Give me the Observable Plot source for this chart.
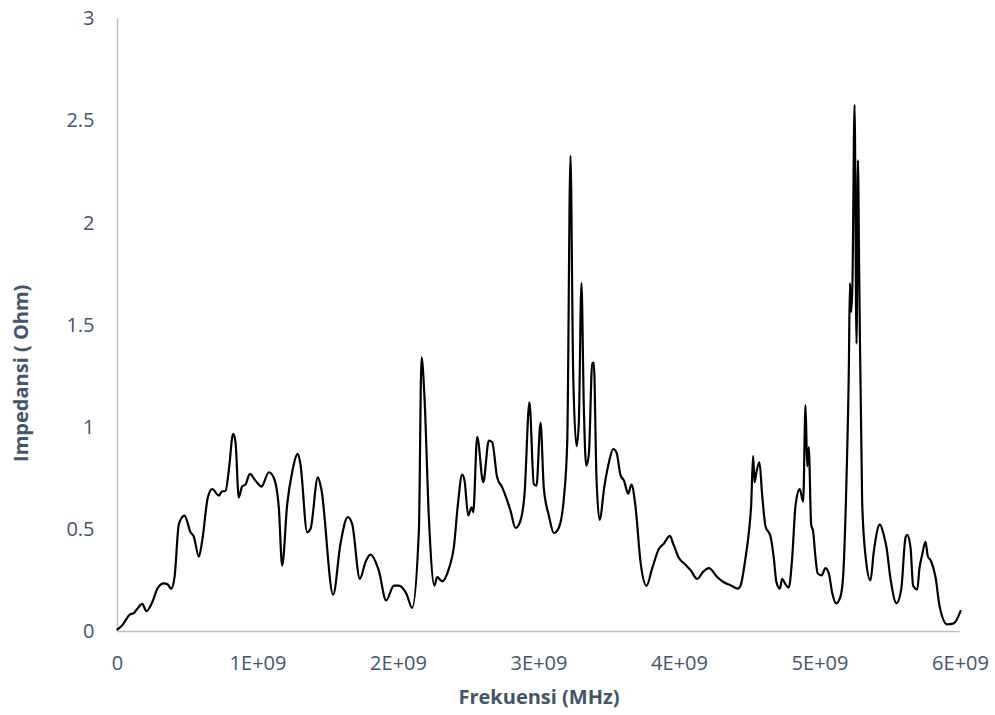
<!DOCTYPE html>
<html>
<head>
<meta charset="utf-8">
<script src="https://cdn.jsdelivr.net/npm/d3@7"></script>
<script src="https://cdn.jsdelivr.net/npm/@observablehq/plot@0.6"></script>
<style>
  html, body { margin: 0; padding: 0; background: #ffffff; }
</style>
</head>
<body>
<div id="chart"></div>
<script>
// Frequency in units of 1E+09
const freqE9 = [
  0, 0.033, 0.088, 0.116, 0.14, 0.176, 0.206, 0.247, 0.287, 0.33, 0.358, 0.382, 0.406, 0.437, 0.477,
  0.52, 0.543, 0.579, 0.603, 0.643, 0.674, 0.721, 0.745, 0.769, 0.792, 0.823, 0.84, 0.863, 0.887, 0.911,
  0.942, 0.982, 1.025, 1.077, 1.113, 1.148, 1.172, 1.208, 1.243, 1.283, 1.302, 1.35, 1.374, 1.426, 1.45,
  1.535, 1.587, 1.639, 1.67, 1.725, 1.765, 1.80, 1.86, 1.912, 1.967, 2.002, 2.057, 2.097, 2.145, 2.164,
  2.185, 2.216, 2.256, 2.275, 2.311, 2.358, 2.394, 2.423, 2.453, 2.47, 2.496, 2.52, 2.532, 2.56, 2.603,
  2.643, 2.667, 2.702, 2.738, 2.797, 2.833, 2.868, 2.897, 2.932, 2.963, 2.982, 3.011, 3.034, 3.07, 3.106,
  3.141, 3.177, 3.201, 3.224, 3.243, 3.267, 3.283, 3.302, 3.319, 3.336, 3.355, 3.379, 3.39, 3.409, 3.431,
  3.466, 3.497, 3.528, 3.552, 3.58, 3.604, 3.635, 3.658, 3.687, 3.722, 3.765, 3.806, 3.853, 3.888, 3.931,
  3.955, 3.995, 4.043, 4.078, 4.126, 4.169, 4.209, 4.268, 4.315, 4.363, 4.415, 4.434, 4.47, 4.493, 4.51,
  4.524, 4.534, 4.548, 4.569, 4.588, 4.612, 4.648, 4.671, 4.69, 4.714, 4.731, 4.754, 4.778, 4.802, 4.826,
  4.856, 4.88, 4.897, 4.909, 4.92, 4.937, 4.951, 4.968, 4.984, 5.011, 5.039, 5.063, 5.087, 5.115, 5.146,
  5.165, 5.189, 5.205, 5.213, 5.222, 5.231, 5.246, 5.26, 5.27, 5.279, 5.3, 5.324, 5.359, 5.383, 5.426,
  5.454, 5.473, 5.502, 5.545, 5.578, 5.609, 5.621, 5.644, 5.663, 5.692, 5.708, 5.727, 5.751, 5.767, 5.791,
  5.822, 5.852, 5.905, 5.952, 6.0
];
// Impedance (Ohm)
const impedance = [
  0.01, 0.03, 0.083, 0.09, 0.11, 0.135, 0.10, 0.143, 0.214, 0.236, 0.23, 0.209, 0.266, 0.527, 0.568,
  0.486, 0.465, 0.367, 0.445, 0.657, 0.698, 0.666, 0.687, 0.687, 0.788, 0.968, 0.927, 0.657, 0.71, 0.72,
  0.772, 0.739, 0.71, 0.78, 0.752, 0.608, 0.323, 0.625, 0.78, 0.87, 0.82, 0.486, 0.503, 0.755, 0.70,
  0.18, 0.43, 0.56, 0.527, 0.258, 0.34, 0.377, 0.298, 0.152, 0.225, 0.225, 0.184, 0.116, 0.494, 1.343,
  1.147, 0.56, 0.225, 0.266, 0.246, 0.307, 0.413, 0.625, 0.768, 0.739, 0.568, 0.608, 0.584, 0.954, 0.731,
  0.935, 0.927, 0.755, 0.706, 0.592, 0.507, 0.543, 0.674, 1.122, 0.722, 0.714, 1.023, 0.705, 0.568, 0.482,
  0.508, 0.654, 0.929, 2.33, 1.273, 0.908, 1.015, 1.706, 1.10, 0.812, 0.869, 1.316, 1.316, 0.757, 0.547,
  0.714, 0.826, 0.894, 0.877, 0.766, 0.74, 0.675, 0.719, 0.611, 0.344, 0.224, 0.31, 0.404, 0.43, 0.468,
  0.43, 0.361, 0.327, 0.301, 0.258, 0.293, 0.31, 0.267, 0.241, 0.227, 0.21, 0.224, 0.361, 0.482, 0.619,
  0.86, 0.731, 0.783, 0.829, 0.671, 0.516, 0.465, 0.361, 0.241, 0.21, 0.258, 0.232, 0.215, 0.361, 0.619,
  0.697, 0.636, 1.109, 0.809, 0.903, 0.525, 0.49, 0.361, 0.284, 0.275, 0.31, 0.284, 0.189, 0.138, 0.172,
  0.275, 0.757, 1.273, 1.706, 1.565, 1.706, 2.58, 1.41, 2.308, 1.754, 0.636, 0.37, 0.25, 0.392, 0.525,
  0.473, 0.413, 0.258, 0.138, 0.206, 0.461, 0.473, 0.413, 0.224, 0.206, 0.31, 0.375, 0.439, 0.37, 0.344,
  0.267, 0.121, 0.035, 0.04, 0.10
];

const xTicks = [0, 1e9, 2e9, 3e9, 4e9, 5e9, 6e9];
const xTickLabels = ["0", "1E+09", "2E+09", "3E+09", "4E+09", "5E+09", "6E+09"];
const yTicks = [0, 0.5, 1, 1.5, 2, 2.5, 3];
const yTickLabels = ["0", "0.5", "1", "1.5", "2", "2.5", "3"];
const xTitle = "Frekuensi (MHz)";
const yTitle = "Impedansi ( Ohm)";

const data = freqE9.map((f, i) => ({f: f * 1e9, z: impedance[i]}));

const textColor = "#44546a";
const axisColor = "#b4c0d3";

const chart = Plot.plot({
  width: 995,
  height: 715,
  marginLeft: 117,
  marginRight: 35,
  marginTop: 18.5,
  marginBottom: 84,
  style: {fontFamily: "'Open Sans', sans-serif", fontSize: "20px", color: textColor, background: "#ffffff", overflow: "visible"},
  x: {domain: [0, 6e9], label: null},
  y: {domain: [0, 3], label: null},
  marks: [
    Plot.axisX({ticks: xTicks, tickFormat: d => xTickLabels[xTicks.indexOf(d)], tickSize: 0, tickPadding: 24, label: null, fontSize: 20}),
    Plot.axisY({ticks: yTicks, tickFormat: d => yTickLabels[yTicks.indexOf(d)], tickSize: 0, tickPadding: 23, label: null, fontSize: 20}),
    Plot.ruleX([0], {stroke: axisColor, strokeWidth: 1.4}),
    Plot.ruleY([0], {stroke: axisColor, strokeWidth: 1.4}),
    Plot.line(data, {x: "f", y: "z", stroke: "#000000", strokeWidth: 2.2, curve: "monotone-x"}),
    Plot.text([xTitle], {text: d => d, frameAnchor: "bottom", lineAnchor: "middle", textAnchor: "middle", dy: 66, fontWeight: "bold", fontSize: 20, fill: textColor}),
    Plot.text([yTitle], {text: d => d, frameAnchor: "left", rotate: -90, textAnchor: "middle", lineAnchor: "middle", dx: -96, dy: 48, fontWeight: "bold", fontSize: 20, fill: textColor})
  ]
});

document.getElementById("chart").appendChild(chart);
</script>
</body>
</html>
